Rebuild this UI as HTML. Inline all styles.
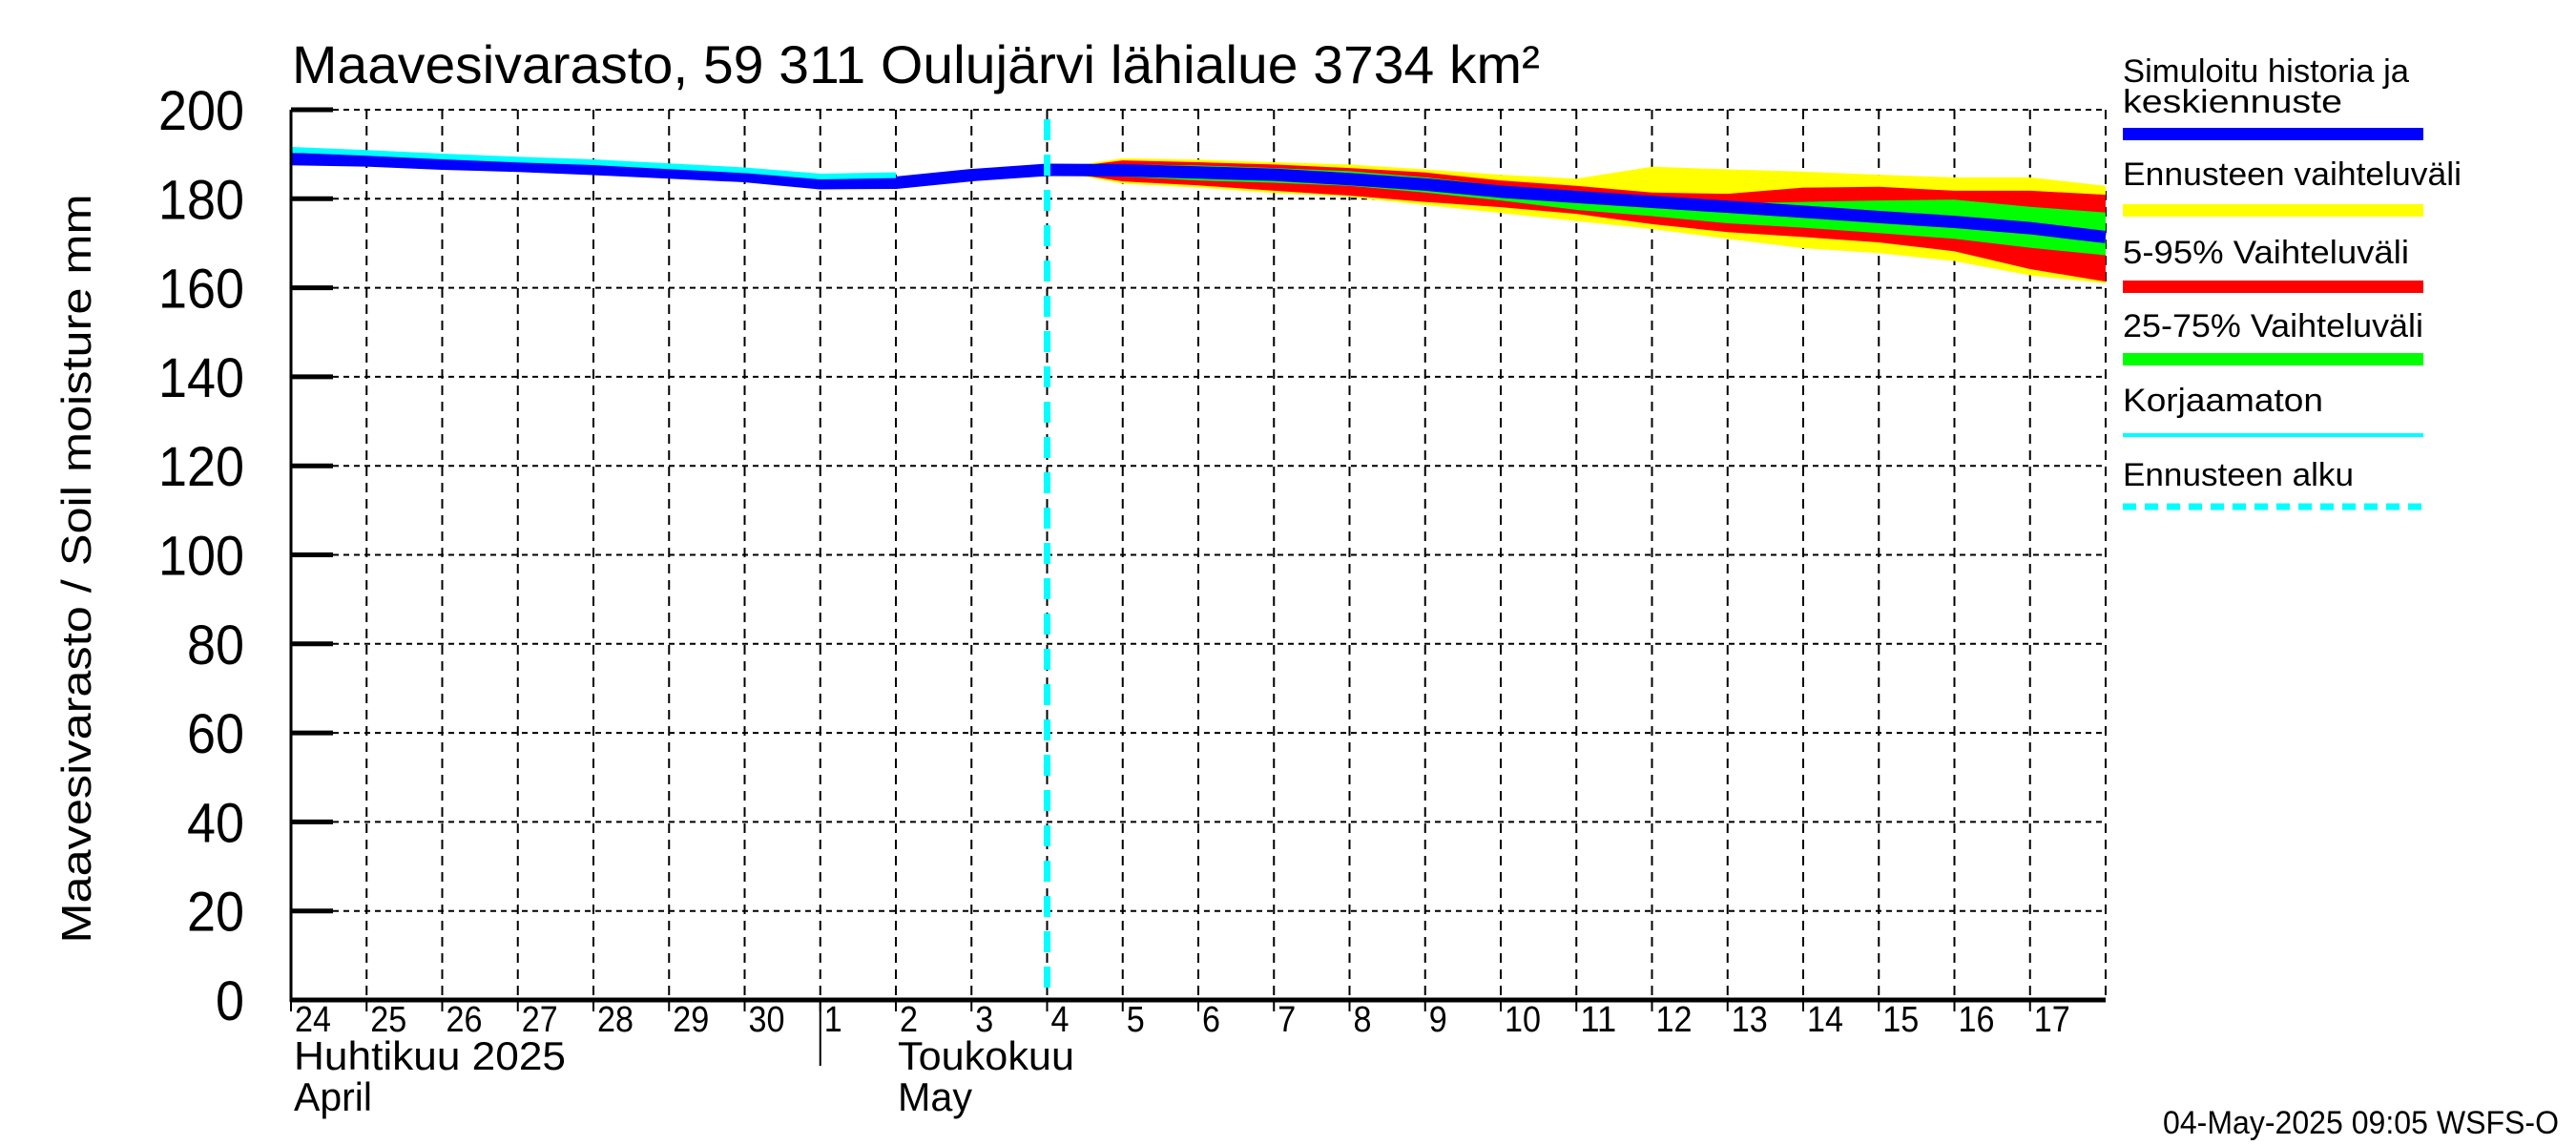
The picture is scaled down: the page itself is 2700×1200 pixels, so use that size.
<!DOCTYPE html>
<html><head><meta charset="utf-8"><style>
html,body{margin:0;padding:0;background:#fff;}
svg{display:block;font-family:"Liberation Sans",sans-serif;}
</style></head><body>
<svg id="chart" width="2700" height="1200" viewBox="0 0 2700 1200" xmlns="http://www.w3.org/2000/svg">
<text x="306" y="87" font-size="56" textLength="1308" lengthAdjust="spacingAndGlyphs">Maavesivarasto, 59 311 Oulujärvi lähialue 3734 km²</text>
<text transform="translate(95,596) rotate(-90)" text-anchor="middle" font-size="44" textLength="785" lengthAdjust="spacingAndGlyphs">Maavesivarasto / Soil moisture   mm</text>
<g id="grid"></g>
<g id="marks"></g>
<g id="axes"></g>
<g id="legend">
<text x="2225" y="86" font-size="34" textLength="300" lengthAdjust="spacingAndGlyphs">Simuloitu historia ja</text>
<text x="2225" y="118" font-size="34" textLength="230" lengthAdjust="spacingAndGlyphs">keskiennuste</text>
<rect x="2225" y="134" width="315" height="13" fill="#0000ff"/>
<text x="2225" y="194" font-size="34" textLength="355" lengthAdjust="spacingAndGlyphs">Ennusteen vaihteluväli</text>
<rect x="2225" y="214" width="315" height="13" fill="#ffff00"/>
<text x="2225" y="276" font-size="34" textLength="300" lengthAdjust="spacingAndGlyphs">5-95% Vaihteluväli</text>
<rect x="2225" y="294" width="315" height="13" fill="#ff0000"/>
<text x="2225" y="353" font-size="34" textLength="315" lengthAdjust="spacingAndGlyphs">25-75% Vaihteluväli</text>
<rect x="2225" y="370" width="315" height="13" fill="#00ff00"/>
<text x="2225" y="431" font-size="34" textLength="210" lengthAdjust="spacingAndGlyphs">Korjaamaton</text>
<rect x="2225" y="454" width="315" height="4" fill="#00ffff"/>
<text x="2225" y="509" font-size="34" textLength="242" lengthAdjust="spacingAndGlyphs">Ennusteen alku</text>
<line x1="2225" y1="531" x2="2540" y2="531" stroke="#00ffff" stroke-width="7" stroke-dasharray="14,9"/>
</g>
<text x="2682" y="1188" text-anchor="end" font-size="34" textLength="415" lengthAdjust="spacingAndGlyphs">04-May-2025 09:05 WSFS-O</text>
</svg>
<script>
const yTicks=[0,20,40,60,80,100,120,140,160,180,200];
const dayLabels=["24","25","26","27","28","29","30","1","2","3","4","5","6","7","8","9","10","11","12","13","14","15","16","17"];
const histDays=[0,1,2,3,4,5,6,7,8,9,10];
const histBlue=[188.9,188.6,187.9,187.4,186.7,185.9,185.1,183.5,183.6,185.3,186.5];
const cyanDays=[0,1,2,3,4,5,6,7,8];
const cyanVals=[191,190.3,189.5,188.8,188.2,187.3,186.4,185,185.3];
const fcDays=[10,11,12,13,14,15,16,17,18,19,20,21,22,23,24];
const yellowTop=[186.5,189.1,188.8,188.2,187.7,186.6,185.4,184.5,187.2,186.6,186.1,185.4,184.8,184.8,182.9];
const redTop=[186.5,188.6,188.2,187.7,186.9,185.9,184.1,182.9,181.4,181.1,182.5,182.7,181.8,181.8,180.9];
const greenTop=[186.5,187.7,187.5,186.9,186.2,184.8,182.9,181.8,180.2,178.9,179.3,179.6,179.8,178.2,176.9];
const greenBot=[186.5,185,184.1,183.6,182.9,181.4,179.6,177.5,176.1,174.5,173.5,172.3,171,169,167.3];
const redBot=[186.5,183.9,183,181.8,180.7,179.3,178.1,176.6,174.3,172.5,171.4,170.2,168.2,164.2,161.4];
const yellowBot=[186.5,183.4,182.5,181.3,180.4,178.6,176.8,175,173.2,171,168.9,167.8,166,162.8,161];
const fcBlue=[186.5,186.4,185.9,185.4,184.4,183.2,181.6,180.4,179.3,178.2,177.1,175.9,174.8,173.4,171.4];
const forecastStartDay=10;

const X0=305,DW=79.25,Y0=1048,YS=4.665,NDAYS=24;
const xs=d=>X0+d*DW, ys=v=>Y0-v*YS;
const NS="http://www.w3.org/2000/svg";
function mk(tag,parent,attrs){const e=document.createElementNS(NS,tag);for(const k in attrs)e.setAttribute(k,attrs[k]);parent.appendChild(e);return e;}
const grid=document.getElementById('grid'),marks=document.getElementById('marks'),axes=document.getElementById('axes');

yTicks.forEach(v=>{
  if(v>0){const l=mk('line',grid,{x1:X0,x2:xs(NDAYS),y1:ys(v),y2:ys(v),stroke:'#000','stroke-width':2,'stroke-dasharray':'6,5'});
  
  }
  const t=mk('line',axes,{x1:X0,x2:X0+44,y1:ys(v),y2:ys(v),stroke:'#000','stroke-width':5});
  
  
  const s=String(v);
  const tx=mk('text',axes,{x:256,y:ys(v)+21,'text-anchor':'end','font-size':58,textLength:s.length*30,lengthAdjust:'spacingAndGlyphs'});
  tx.textContent=s;
  
  
});
for(let d=1;d<=NDAYS;d++){
  const l=mk('line',grid,{x1:xs(d),x2:xs(d),y1:ys(200),y2:Y0,stroke:'#000','stroke-width':2,'stroke-dasharray':'10,7'});
  
  
}
dayLabels.forEach((s,i)=>{
  const t=mk('line',axes,{x1:xs(i),x2:xs(i),y1:Y0,y2:Y0+12,stroke:'#000','stroke-width':2});
  
  
  const tx=mk('text',axes,{x:xs(i)+4,y:1081,'font-size':38,textLength:s.length*19,lengthAdjust:'spacingAndGlyphs'});
  tx.textContent=s;
  
  
});
function poly(top,bot,fill,name){
  let pts=fcDays.map((d,i)=>xs(d)+','+ys(top[i]));
  for(let i=fcDays.length-1;i>=0;i--)pts.push(xs(fcDays[i])+','+ys(bot[i]));
  const p=mk('polygon',marks,{points:pts.join(' '),fill:fill});
  
  
}
poly(yellowTop,yellowBot,'#ffff00','forecast-range-band');
poly(redTop,redBot,'#ff0000','band-5-95');
poly(greenTop,greenBot,'#00ff00','band-25-75');
function line(days,vals,color,w,name){
  const p=mk('polyline',marks,{points:days.map((d,i)=>xs(d)+','+ys(vals[i])).join(' '),fill:'none',stroke:color,'stroke-width':w,'stroke-linejoin':'round'});
  
  
}
line(histDays,histBlue,'#0000ff',13,'simulated-history-line');
line(fcDays,fcBlue,'#0000ff',13,'mean-forecast-line');
line(cyanDays,cyanVals,'#00ffff',6,'uncorrected-line');
const fs=mk('line',marks,{x1:xs(forecastStartDay),x2:xs(forecastStartDay),y1:125,y2:Y0,stroke:'#00ffff','stroke-width':7,'stroke-dasharray':'22,15'});



const la=mk('line',axes,{x1:X0,x2:X0,y1:ys(200),y2:Y0+2,stroke:'#000','stroke-width':3});


const ba=mk('line',axes,{x1:X0,x2:xs(NDAYS),y1:Y0,y2:Y0,stroke:'#000','stroke-width':5});


const sep=mk('line',axes,{x1:xs(7),x2:xs(7),y1:Y0,y2:1117,stroke:'#000','stroke-width':2});


[[X0+3,1121,'Huhtikuu  2025',285,'month-label-april-fi'],[X0+3,1164,'April',82,'month-label-april-en'],[xs(8)+2,1121,'Toukokuu',185,'month-label-may-fi'],[xs(8)+2,1164,'May',78,'month-label-may-en']].forEach(a=>{
  const t=mk('text',axes,{x:a[0],y:a[1],'font-size':42,textLength:a[3],lengthAdjust:'spacingAndGlyphs'});
  t.textContent=a[2];
  
  
});
</script>
</body></html>
